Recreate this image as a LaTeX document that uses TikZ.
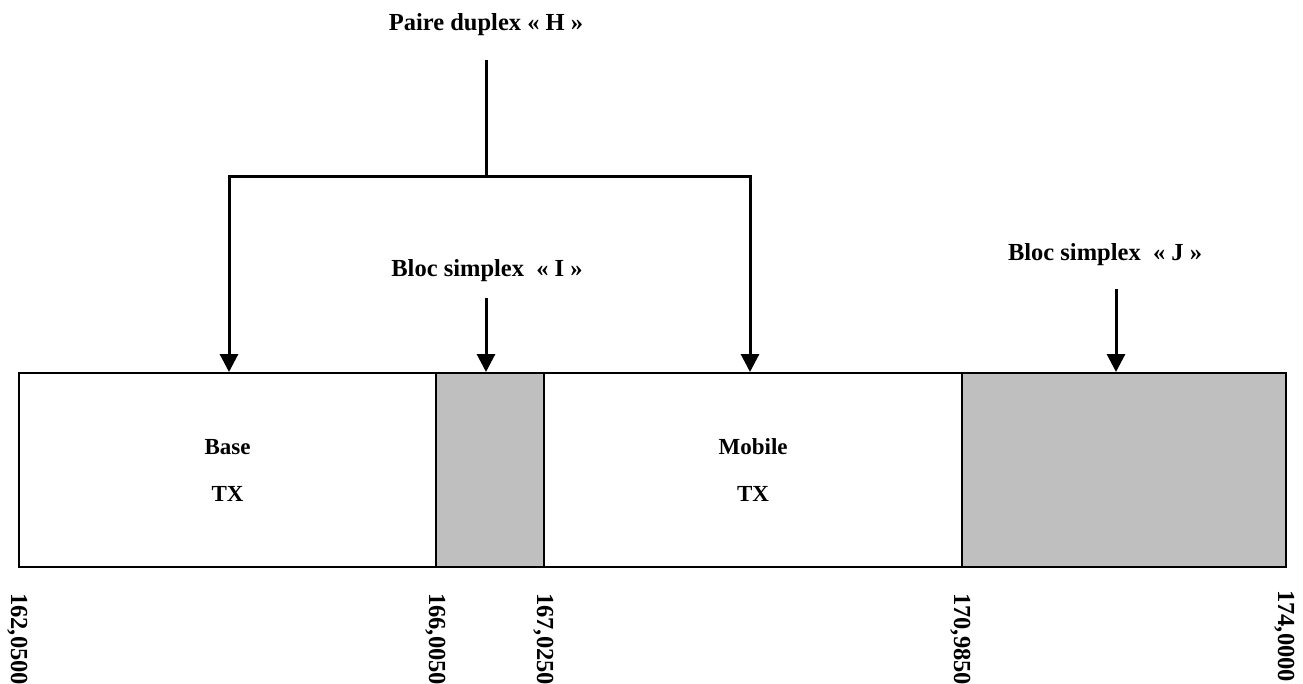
\documentclass[tikz,border=0pt]{standalone}
\usepackage{fontspec}
\setmainfont{Liberation Serif}
\usetikzlibrary{arrows.meta}
\definecolor{hatchgray}{RGB}{191,191,191}
\tikzset{
  seg/.style={draw, line width=2.2pt, inner sep=0pt, minimum height=194pt, anchor=north west, align=center,
              font=\bfseries\fontsize{23}{47}\selectfont},
  shaded/.style={fill=hatchgray},
  lbl/.style={inner sep=0pt, font=\bfseries\fontsize{24.5}{28}\selectfont},
  freq/.style={inner sep=0pt, rotate=-90, anchor=base west, font=\bfseries\fontsize{24.5}{28}\selectfont},
  arr/.style={line width=3pt, -{Triangle[length=18pt,width=18pt]}},
  plain/.style={line width=3pt}
}
\begin{document}
\begin{tikzpicture}[x=1pt,y=-1pt]
\useasboundingbox (0,0) rectangle (1303,683);
% segments
\node[seg, minimum width=417pt] (base) at (18,372) {Base\\TX};
\node[seg, shaded, minimum width=108pt] (blocI) at (435,372) {};
\node[seg, minimum width=418pt] (mobile) at (543,372) {Mobile\\TX};
\node[seg, shaded, minimum width=324pt] (blocJ) at (961,372) {};
% frequency labels
\node[freq] (f1) at (11,593) {162,0500};
\node[freq] (f2) at (429,593) {166,0050};
\node[freq] (f3) at (537,593) {167,0250};
\node[freq] (f4) at (954,593) {170,9850};
\node[freq] (f5) at (1278,590) {174,0000};
% top labels
\node[lbl] (hLbl) at (486,25) {Paire duplex « H »};
\node[lbl] (iLbl) at (487,271) {Bloc simplex\ \ « I »};
\node[lbl] (jLbl) at (1105,255) {Bloc simplex\ \ « J »};
% connectors
\coordinate (hTop) at (486,60);
\coordinate (hJoin) at (486,176);
\coordinate (aBase) at (229,176);
\coordinate (aMob) at (750,176);
\coordinate (iTop) at (486,298);
\coordinate (jTop) at (1116,289);
\draw[plain] (hTop) -- (hJoin);
\draw[arr, line join=miter] (hJoin) -- (aBase) -- (aBase |- base.north);
\draw[arr, line join=miter] (hJoin) -- (aMob) -- (aMob |- mobile.north);
\draw[arr] (iTop) -- (iTop |- blocI.north);
\draw[arr] (jTop) -- (jTop |- blocJ.north);
\end{tikzpicture}
\end{document}
